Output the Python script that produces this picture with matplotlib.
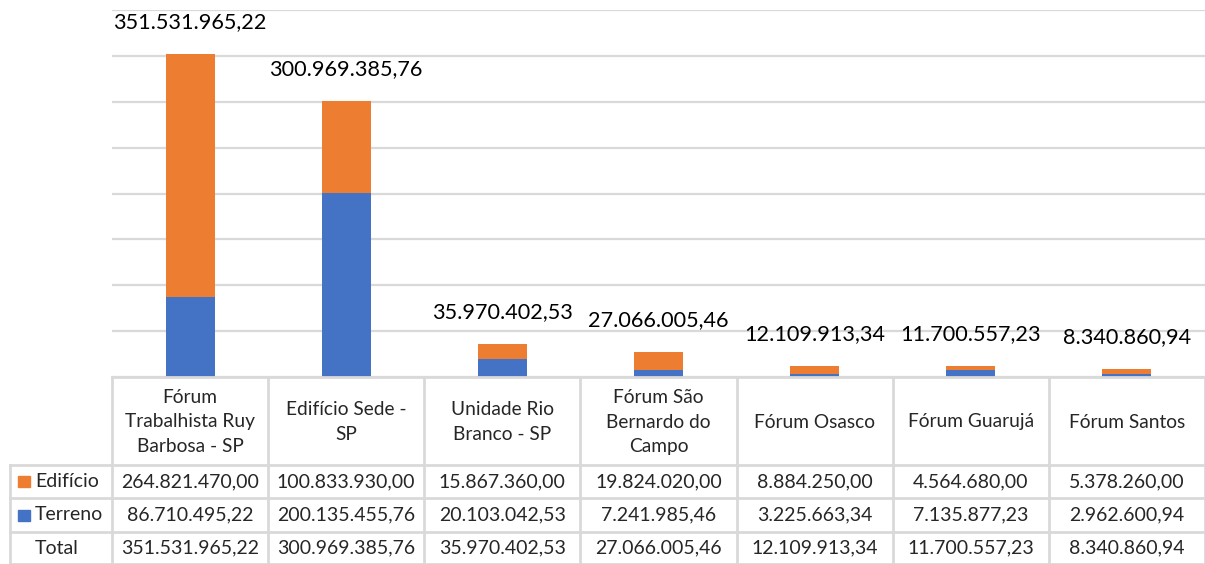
import numpy as np
import matplotlib
matplotlib.use("Agg")
import matplotlib.pyplot as plt
from matplotlib.patches import Rectangle

plt.rcParams['font.family'] = ['Lato', 'DejaVu Sans']

categories = [
    "Fórum\nTrabalhista Ruy\nBarbosa - SP",
    "Edifício Sede -\nSP",
    "Unidade Rio\nBranco - SP",
    "Fórum São\nBernardo do\nCampo",
    "Fórum Osasco",
    "Fórum Guarujá",
    "Fórum Santos",
]
edificio = [264821470.00, 100833930.00, 15867360.00, 19824020.00,
            8884250.00, 4564680.00, 5378260.00]
terreno = [86710495.22, 200135455.76, 20103042.53, 7241985.46,
           3225663.34, 7135877.23, 2962600.94]
total = [e + t for e, t in zip(edificio, terreno)]

ORANGE = "#ED7D31"
BLUE = "#4472C4"
GRID = "#D9D9D9"
TXT = "#262626"


def br(v):
    s = f"{v:,.2f}"
    return s.replace(",", "X").replace(".", ",").replace("X", ".")


W, H = 1205, 564
fig = plt.figure(figsize=(W / 100, H / 100), dpi=100)

# plot area in pixels: x 112..1205, y 10..377
ax = fig.add_axes([112 / W, (H - 377) / H, (W - 112) / W, 367 / H])
x = np.arange(len(categories))
bw = 0.314
ax.bar(x, terreno, bw, color=BLUE, zorder=3)
ax.bar(x, edificio, bw, bottom=terreno, color=ORANGE, zorder=3)
for xi, t in zip(x, total):
    ax.annotate(br(t), (xi, t), xytext=(0, 32), textcoords="offset pixels",
                ha="center", va="center", fontsize=15.6, color="black",
                annotation_clip=False)
ax.set_xlim(-0.5, len(categories) - 0.5)
ax.set_ylim(0, 400e6)
ax.set_yticks(np.arange(0, 400e6 + 1, 50e6))
ax.yaxis.grid(True, color=GRID, linewidth=1.6, zorder=0)
ax.tick_params(left=False, bottom=False, labelleft=False, labelbottom=False)
for sp in ax.spines.values():
    sp.set_visible(False)

# data table below
colw = 1093 / 7
left_units = 102 / colw
tax = fig.add_axes([10 / W, 0, (W - 10) / W, 187 / H])
tax.set_xlim(-0.5 - left_units, len(categories) - 0.5)
rows = [0, 88, 121, 155, 187]
tax.set_ylim(rows[-1], 0)
tax.axis("off")

xl = -0.5 - left_units
xr = len(categories) - 0.5
lw = 2
# horizontal lines
tax.plot([-0.5, xr], [rows[0], rows[0]], color=GRID, lw=lw, clip_on=False)
for r in rows[1:]:
    tax.plot([xl, xr], [r, r], color=GRID, lw=lw, clip_on=False)
# vertical lines
for i in range(len(categories) + 1):
    xv = i - 0.5
    tax.plot([xv, xv], [rows[0], rows[-1]], color=GRID, lw=lw, clip_on=False)
tax.plot([xl, xl], [rows[1], rows[-1]], color=GRID, lw=lw, clip_on=False)

for i, c in enumerate(categories):
    tax.text(i, (rows[0] + rows[1]) / 2 + 1, c, ha="center", va="center",
             fontsize=13.8, color=TXT, linespacing=1.55)

row_names = ["Edifício", "Terreno", "Total"]
row_vals = [edificio, terreno, total]
row_cols = [ORANGE, BLUE, None]
for k, (name, vals, col) in enumerate(zip(row_names, row_vals, row_cols)):
    yc = (rows[k + 1] + rows[k + 2]) / 2
    if col is not None:
        tax.add_patch(Rectangle((xl + 0.05, yc - 5.5), 0.075, 11,
                                color=col, clip_on=False))
    tax.text(xl + 0.16, yc, name, ha="left", va="center", fontsize=14,
             color=TXT)
    for i, v in enumerate(vals):
        tax.text(i, yc, br(v), ha="center", va="center", fontsize=14,
                 color=TXT)

fig.savefig("out.png", dpi=100)
